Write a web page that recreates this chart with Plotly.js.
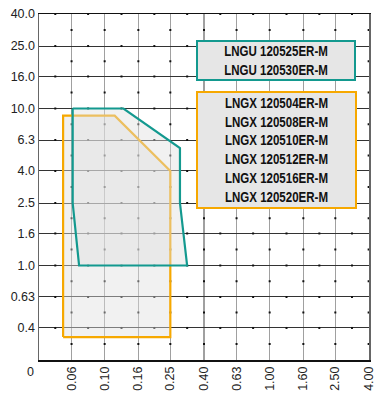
<!DOCTYPE html>
<html>
<head>
<meta charset="utf-8">
<script src="https://cdn.plot.ly/plotly-3.0.1.min.js"></script>
<style>html,body{margin:0;padding:0;background:#fff;}#chart{width:376px;height:407px;}
#chart .annotation-text.boxtxt{transform-box:fill-box;transform-origin:center;transform:scaleX(0.79);}</style>
</head>
<body>
<div id="chart"></div>
<script>
// Axis ticks
const xTickVals = [0.063, 0.1, 0.16, 0.25, 0.4, 0.63, 1.0, 1.6, 2.5, 3.98];
const xTickText = ['0.06', '0.10', '0.16', '0.25', '0.40', '0.63', '1.00', '1.60', '2.50', '4.00'];
const yTickVals = [0.4, 0.63, 1.0, 1.6, 2.5, 4.0, 6.3, 10, 16, 25, 40];
const yTickText = ['0.4', '0.63', '1.0', '1.6', '2.5', '4.0', '6.3', '10.0', '16.0', '25.0', '40.0'];

// LNGX region (orange)
const lngxX = [0.056, 0.056, 0.115, 0.25, 0.25, 0.056];
const lngxY = [0.35, 9.0, 9.0, 4.0, 0.35, 0.35];
// LNGU region (teal)
const lnguX = [0.064, 0.13, 0.286, 0.286, 0.316, 0.07, 0.064, 0.064];
const lnguY = [10.0, 10.0, 5.6, 2.5, 1.0, 1.0, 2.5, 10.0];

const lnguNames = ['LNGU 120525ER-M', 'LNGU 120530ER-M'];
const lngxNames = ['LNGX 120504ER-M', 'LNGX 120508ER-M', 'LNGX 120510ER-M',
                   'LNGX 120512ER-M', 'LNGX 120516ER-M', 'LNGX 120520ER-M'];

const FONT = 'Liberation Sans, Arial, sans-serif';
const ORANGE = '#f6a800';
const TEAL = '#13998f';

// minor grid dots (geometric midpoints between ticks)
const xAll = [0.04].concat(xTickVals);
const yAll = [0.25].concat(yTickVals);
const xMid = [], yMid = [];
for (let i = 0; i < xAll.length - 1; i++) xMid.push(Math.sqrt(xAll[i] * xAll[i + 1]));
for (let i = 0; i < yAll.length - 1; i++) yMid.push(Math.sqrt(yAll[i] * yAll[i + 1]));
const dotX = [], dotY = [];
yTickVals.forEach(y => xMid.forEach(x => { dotX.push(x); dotY.push(y); }));
xTickVals.forEach(x => yMid.forEach(y => { dotX.push(x); dotY.push(y); }));

const traces = [
  {x: dotX, y: dotY, type: 'scatter', mode: 'markers', hoverinfo: 'skip',
   marker: {symbol: 'square', size: 2, color: '#111'}, showlegend: false},
  {x: lngxX, y: lngxY, type: 'scatter', mode: 'lines', fill: 'toself',
   fillcolor: 'rgba(223,223,223,0.43)', line: {color: ORANGE, width: 2.2}, showlegend: false},
  {x: lnguX, y: lnguY, type: 'scatter', mode: 'lines', fill: 'toself',
   fillcolor: 'rgba(223,223,223,0.43)', line: {color: TEAL, width: 2.2}, showlegend: false}
];

const tickFont = {family: FONT, size: 12.5, color: '#222'};
const boxFont = {family: FONT, size: 14.6, color: '#111', weight: 'bold'};

const layout = {
  width: 376, height: 407,
  margin: {l: 39, r: 7, t: 14, b: 47},
  paper_bgcolor: '#fff', plot_bgcolor: '#fff',
  font: tickFont,
  showlegend: false,
  xaxis: {
    type: 'log', range: [Math.log10(0.04), Math.log10(4.0)],
    tickvals: xTickVals, ticktext: xTickText, tickangle: -90,
    showgrid: true, gridcolor: '#a0a0a0', gridwidth: 1.6,
    showline: true, linecolor: '#111', linewidth: 1.5, mirror: true,
    ticks: '', zeroline: false, tickfont: tickFont
  },
  yaxis: {
    type: 'log', range: [Math.log10(0.25), Math.log10(40)],
    tickvals: yTickVals, ticktext: yTickText,
    showgrid: true, gridcolor: '#333', gridwidth: 1,
    showline: true, linecolor: '#666', linewidth: 1.5, mirror: true,
    ticks: '', zeroline: false, tickfont: tickFont
  },
  annotations: [
    {xref: 'paper', yref: 'paper', x: 0.717, y: 0.865, xanchor: 'center', yanchor: 'middle',
     text: lnguNames.join('<br>'), showarrow: false, align: 'center', font: boxFont,
     bgcolor: '#e6e6e6', bordercolor: TEAL, borderwidth: 2, borderpad: 0,
     width: 156, height: 37},
    {xref: 'paper', yref: 'paper', x: 0.719, y: 0.607, xanchor: 'center', yanchor: 'middle',
     text: lngxNames.join('<br>'), showarrow: false, align: 'center', font: boxFont,
     bgcolor: '#e6e6e6', bordercolor: ORANGE, borderwidth: 2, borderpad: 0,
     width: 157, height: 114},
    {xref: 'paper', yref: 'paper', x: -0.025, y: -0.035, xanchor: 'center', yanchor: 'middle',
     text: '0', showarrow: false, font: tickFont}
  ]
};

function tagBoxes() {
  document.querySelectorAll('#chart .annotation-text').forEach(t => {
    if (t.textContent.indexOf('LNG') === 0) t.classList.add('boxtxt');
  });
}
Plotly.newPlot('chart', traces, layout, {displayModeBar: false, staticPlot: true}).then(tagBoxes);
</script>
</body>
</html>
